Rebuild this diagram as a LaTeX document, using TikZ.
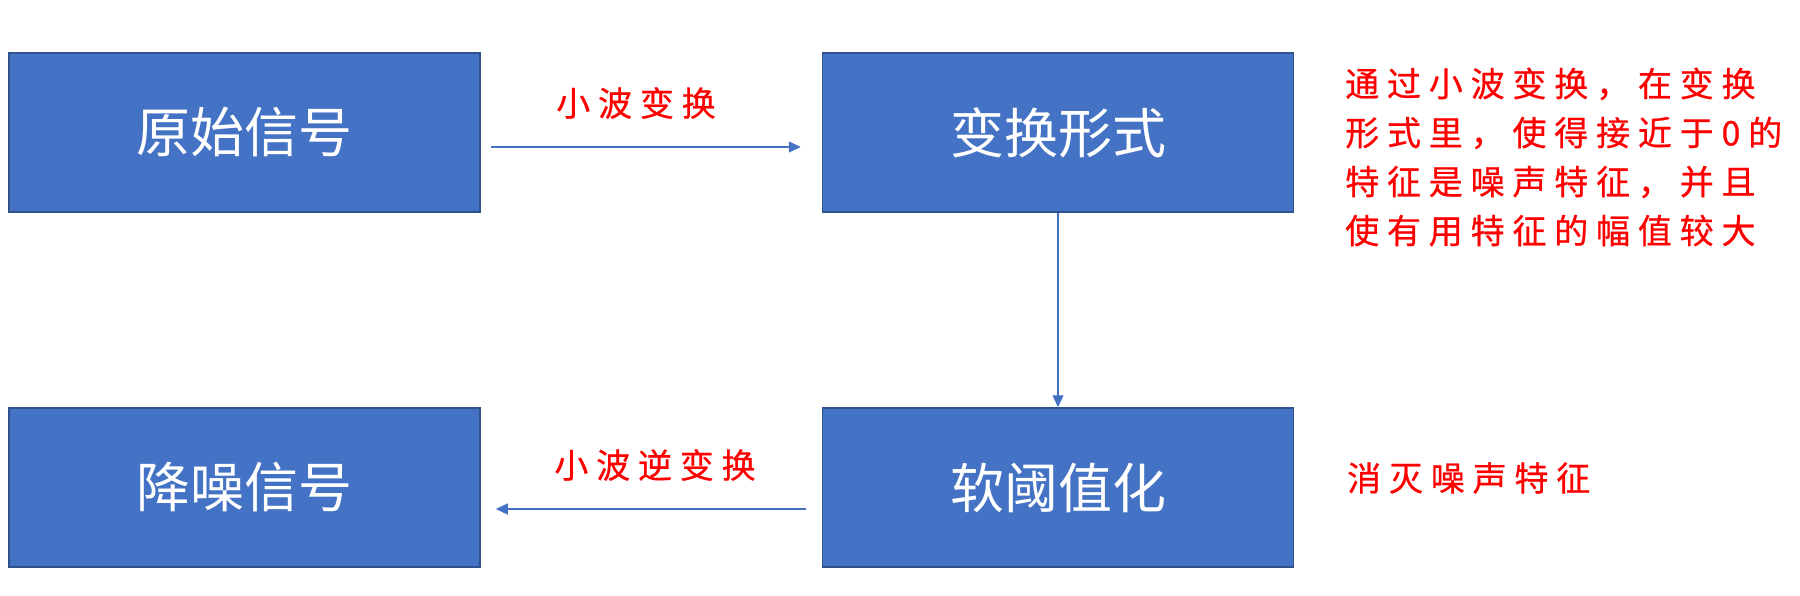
\documentclass[tikz,border=0pt]{standalone}
\usepackage{fontspec}
\newfontfamily\cjk{Noto Sans CJK SC}
\newfontfamily\cjkls[LetterSpace=23,FakeBold=0.6]{Noto Sans CJK SC}
\usetikzlibrary{arrows.meta}
\definecolor{boxblue}{HTML}{4472C4}
\definecolor{boxedge}{HTML}{2F528F}
\definecolor{lblred}{HTML}{FF0000}
\tikzset{
  box/.style={draw=boxedge,line width=1.5pt,fill=boxblue,minimum width=471pt,minimum height=159pt,inner sep=0pt,text=white,font=\cjk\fontsize{54}{60}\selectfont},
  arr/.style={draw=boxblue,line width=1.3pt,-{Triangle[length=12pt,width=11pt]}},
  redlbl/.style={text=lblred,inner sep=0pt,font=\cjkls\fontsize{34}{49}\selectfont}
}
\begin{document}
\begin{tikzpicture}[x=1pt,y=-1pt]
\useasboundingbox (0,0) rectangle (1800,595);
\node[box] (b1) at (244.5,132.5) {原始信号};
\node[box] (b2) at (1058,132.5) {变换形式};
\node[box] (b3) at (1058,487.5) {软阈值化};
\node[box] (b4) at (244.5,487.5) {降噪信号};
\draw[arr] ([xshift=10pt,yshift=-14.5pt]b1.east) -- ([xshift=-21pt,yshift=-14.5pt]b2.west);
\draw[arr] (b2.south) -- (b3.north);
\draw[arr] ([xshift=-16pt,yshift=-21.5pt]b3.west) -- ([xshift=15pt,yshift=-21.5pt]b4.east);
\node[redlbl] (l1) at (636,103) {小波变换};
\node[redlbl] (l2) at (655,465) {小波逆变换};
\node[redlbl,align=left,anchor=west] (n1) at (1345,157) {通过小波变换，在变换\\形式里，使得接近于0的\\特征是噪声特征，并且\\使有用特征的幅值较大};
\node[redlbl,anchor=west] (n2) at (1347,478) {消灭噪声特征};
\end{tikzpicture}
\end{document}
